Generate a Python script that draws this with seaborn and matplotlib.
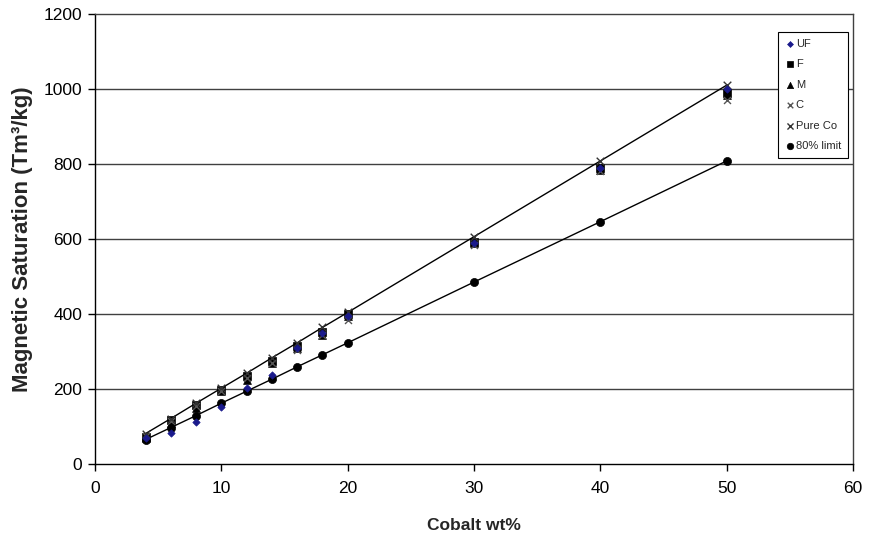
import matplotlib
matplotlib.use("Agg")
import matplotlib.pyplot as plt
import seaborn as sns
import pandas as pd

cobalt = [4, 6, 8, 10, 12, 14, 16, 18, 20, 30, 40, 50]
uf = [68, 83, 112, 152, 203, 237, 310, 350, 395, 590, 790, 1000]
f_vals = [72, 118, 158, 198, 235, 275, 315, 352, 400, 592, 790, 990]
m_vals = [70, 110, 150, 195, 225, 270, 310, 345, 395, 590, 785, 985]
c_vals = [75, 115, 155, 195, 230, 270, 305, 345, 385, 585, 780, 970]
pure_co = [81, 121, 162, 202, 242, 283, 323, 364, 404, 606, 808, 1010]
limit80 = [65, 97, 129, 162, 194, 226, 259, 291, 323, 485, 646, 808]

sns.set_style("white")
plt.rcParams['font.family'] = ['Liberation Sans', 'DejaVu Sans']

fig = plt.figure(figsize=(8.77, 5.37), dpi=100)
ax = fig.add_axes([0.1083, 0.136, 0.8643, 0.838])

df = pd.DataFrame({"x": cobalt, "UF": uf, "F": f_vals, "M": m_vals, "C": c_vals,
                   "Pure Co": pure_co, "80% limit": limit80})

for yv in range(200, 1001, 200):
    ax.axhline(yv, color="#404040", lw=1.0, zorder=0)

sns.lineplot(data=df, x="x", y="Pure Co", ax=ax, color="black", lw=1.0, zorder=2)
sns.lineplot(data=df, x="x", y="80% limit", ax=ax, color="black", lw=1.0, zorder=2)

sns.scatterplot(data=df, x="x", y="F", ax=ax, marker="s", s=32, color="black",
                edgecolor="black", linewidth=0.5, label="F", zorder=3)
sns.scatterplot(data=df, x="x", y="M", ax=ax, marker="^", s=32, color="black",
                edgecolor="black", linewidth=0.5, label="M", zorder=3)
sns.scatterplot(data=df, x="x", y="C", ax=ax, marker="x", s=25, color="#555555",
                linewidth=1.0, label="C", zorder=3)
sns.scatterplot(data=df, x="x", y="Pure Co", ax=ax, marker="x", s=30, color="#333333",
                linewidth=1.0, label="Pure Co", zorder=4)
sns.scatterplot(data=df, x="x", y="80% limit", ax=ax, marker="o", s=34, color="black",
                edgecolor="black", linewidth=0.5, label="80% limit", zorder=3)
sns.scatterplot(data=df, x="x", y="UF", ax=ax, marker="D", s=14, color="#1a1a8c",
                edgecolor="#1a1a8c", linewidth=0.5, label="UF", zorder=5)

ax.set_xlim(0, 60)
ax.set_ylim(0, 1200)
ax.set_xticks(range(0, 61, 10))
ax.set_yticks(range(0, 1201, 200))
ax.tick_params(axis="both", direction="out", length=5, width=1, colors="black",
               labelsize=12.5, bottom=True, left=True)
ax.tick_params(axis="y", pad=4)
ax.tick_params(axis="x", pad=7)
for side in ["top", "right"]:
    ax.spines[side].set_visible(True)
    ax.spines[side].set_color("#404040")
for side in ["left", "bottom"]:
    ax.spines[side].set_color("black")
for s in ax.spines.values():
    s.set_linewidth(1.0)

ax.set_xlabel("Cobalt wt%", fontsize=12.5, fontweight="bold", labelpad=16)
ax.set_ylabel("Magnetic Saturation (Tm³/kg)", fontsize=16, fontweight="bold", labelpad=8)

handles, labels = ax.get_legend_handles_labels()
order = ["UF", "F", "M", "C", "Pure Co", "80% limit"]
hmap = dict(zip(labels, handles))
leg = ax.legend([hmap[o] for o in order], order, loc="upper left",
                bbox_to_anchor=(0.901, 0.96), borderaxespad=0, frameon=True,
                fancybox=False, edgecolor="black", fontsize=8, handletextpad=0.0,
                handlelength=1.0, labelspacing=0.95, borderpad=0.6, markerscale=0.8,
                framealpha=1)
leg.get_frame().set_linewidth(0.8)

fig.savefig("out.png", dpi=100)
